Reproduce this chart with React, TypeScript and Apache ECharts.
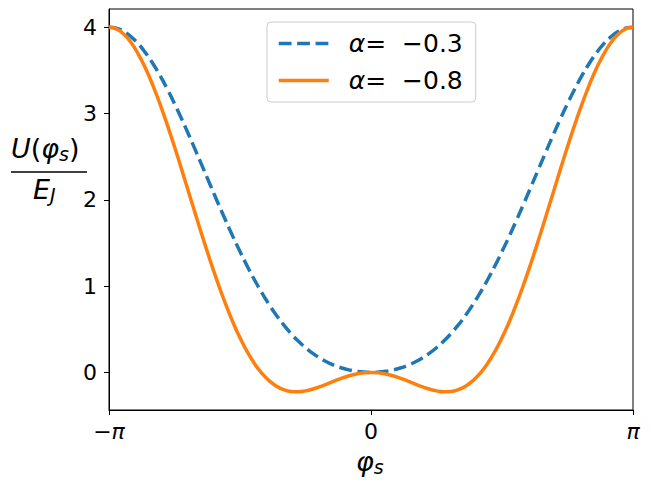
import React, { useEffect, useRef } from "react";
import * as echarts from "echarts";

const FONT = "DejaVu Sans";

// phase φ_s (radians) at which the curves were read (every 5°)
const PHI = [
  -3.14159, -3.0543, -2.9671, -2.8798, -2.7925, -2.7053, -2.618, -2.5307, -2.4435,
  -2.3562, -2.2689, -2.1817, -2.0944, -2.0071, -1.9199, -1.8326, -1.7453, -1.6581,
  -1.5708, -1.4835, -1.3963, -1.309, -1.2217, -1.1345, -1.0472, -0.9599, -0.8727,
  -0.7854, -0.6981, -0.6109, -0.5236, -0.4363, -0.3491, -0.2618, -0.1745, -0.0873,
  0,
  0.0873, 0.1745, 0.2618, 0.3491, 0.4363, 0.5236, 0.6109, 0.6981, 0.7854,
  0.8727, 0.9599, 1.0472, 1.1345, 1.2217, 1.309, 1.3963, 1.4835, 1.5708,
  1.6581, 1.7453, 1.8326, 1.9199, 2.0071, 2.0944, 2.1817, 2.2689, 2.3562,
  2.4435, 2.5307, 2.618, 2.7053, 2.7925, 2.8798, 2.9671, 3.0543, 3.14159,
];

// U(φ_s)/E_J for α = −0.3 (dashed blue)
const U_ALPHA_03 = [
  4.0, 3.9878, 3.9515, 3.8917, 3.8092, 3.7055, 3.5821, 3.4409, 3.2842,
  3.1142, 2.9335, 2.7445, 2.55, 2.3524, 2.1542, 1.9578, 1.7654, 1.5789,
  1.4, 1.2303, 1.0708, 0.9226, 0.7862, 0.6619, 0.55, 0.4502, 0.3623,
  0.2858, 0.22, 0.1643, 0.118, 0.0802, 0.0504, 0.028, 0.0123, 0.0031,
  0,
  0.0031, 0.0123, 0.028, 0.0504, 0.0802, 0.118, 0.1643, 0.22, 0.2858,
  0.3623, 0.4502, 0.55, 0.6619, 0.7862, 0.9226, 1.0708, 1.2303, 1.4,
  1.5789, 1.7654, 1.9578, 2.1542, 2.3524, 2.55, 2.7445, 2.9335, 3.1142,
  3.2842, 3.4409, 3.5821, 3.7055, 3.8092, 3.8917, 3.9515, 3.9878, 4.0,
];

// U(φ_s)/E_J for α = −0.8 (solid orange)
const U_ALPHA_08 = [
  4.0, 3.9802, 3.9214, 3.8247, 3.6922, 3.5269, 3.3321, 3.1119, 2.871,
  2.6142, 2.3467, 2.0735, 1.8, 1.531, 1.2712, 1.0248, 0.7956, 0.5865,
  0.4, 0.2378, 0.101, -0.0105, -0.0969, -0.1595, -0.2, -0.2208, -0.2245,
  -0.2142, -0.1932, -0.1647, -0.1321, -0.0984, -0.0665, -0.039, -0.0179, -0.0045,
  0,
  -0.0045, -0.0179, -0.039, -0.0665, -0.0984, -0.1321, -0.1647, -0.1932, -0.2142,
  -0.2245, -0.2208, -0.2, -0.1595, -0.0969, -0.0105, 0.101, 0.2378, 0.4,
  0.5865, 0.7956, 1.0248, 1.2712, 1.531, 1.8, 2.0735, 2.3467, 2.6142,
  2.871, 3.1119, 3.3321, 3.5269, 3.6922, 3.8247, 3.9214, 3.9802, 4.0,
];

const ALPHA_LABELS = ["−0.3", "−0.8"];
const SERIES_NAMES = ALPHA_LABELS.map((a) => "α = " + a);
const Y_TICKS = [0, 1, 2, 3, 4];

export default function App() {
  const ref = useRef<HTMLDivElement>(null);

  useEffect(() => {
    if (!ref.current) return;
    const chart = echarts.init(ref.current, undefined, { renderer: "svg" });

    const toPairs = (ys: number[]) => PHI.map((x, i) => [x, ys[i]]);

    const axisLabelBase = { color: "#000", fontSize: 22, fontFamily: FONT };

    const mainTok = (italic: boolean) => ({
      fontSize: 27,
      fontFamily: FONT,
      fontStyle: italic ? "italic" : "normal",
      lineHeight: 30,
      fill: "#000",
      color: "#000",
    });
    const subTok = {
      fontSize: 19,
      fontFamily: FONT,
      fontStyle: "italic",
      lineHeight: 14,
      verticalAlign: "bottom",
      fill: "#000",
      color: "#000",
    };
    const labelRich = { i: mainTok(true), n: mainTok(false), s: subTok };

    const legendTok = { color: "#000", fontSize: 25, fontFamily: FONT, lineHeight: 29 };

    const option: any = {
      animation: false,
      grid: {
        left: 109,
        right: 18,
        top: 9,
        bottom: 81,
        show: true,
        borderColor: "#000",
        borderWidth: 1,
        backgroundColor: "transparent",
        containLabel: false,
      },
      xAxis: {
        type: "value",
        min: -Math.PI,
        max: Math.PI,
        interval: Math.PI,
        axisLine: { show: true, onZero: false, lineStyle: { color: "#000", width: 1 } },
        axisTick: { show: true, length: 5, lineStyle: { color: "#000", width: 1 } },
        splitLine: { show: false },
        axisLabel: {
          ...axisLabelBase,
          margin: 10,
          formatter: (v: number) => {
            if (Math.abs(v) < 1e-6) return "0";
            return v < 0 ? "{n|−}{i|π}" : "{i|π}";
          },
          rich: {
            n: { ...axisLabelBase },
            i: { ...axisLabelBase, fontStyle: "italic" },
          },
        },
      },
      yAxis: {
        type: "value",
        min: -0.436,
        max: 4.211,
        axisLine: { show: true, onZero: false, lineStyle: { color: "#000", width: 1 } },
        axisTick: {
          show: true,
          length: 5,
          customValues: Y_TICKS,
          lineStyle: { color: "#000", width: 1 },
        },
        splitLine: { show: false },
        axisLabel: {
          ...axisLabelBase,
          margin: 12,
          customValues: Y_TICKS,
          formatter: (v: number) => String(Math.round(v)),
        },
      },
      legend: {
        orient: "vertical",
        left: 267,
        top: 22,
        padding: [7, 13, 7, 10],
        itemGap: 8,
        itemWidth: 50,
        itemHeight: 14,
        backgroundColor: "rgba(255,255,255,0.8)",
        borderColor: "#cccccc",
        borderWidth: 1,
        borderRadius: 4,
        itemStyle: { opacity: 0 },
        lineStyle: { width: 3.5 },
        data: SERIES_NAMES,
        formatter: (name: string) => {
          const idx = SERIES_NAMES.indexOf(name);
          return "{i|α}{n|=  " + ALPHA_LABELS[idx] + "}";
        },
        textStyle: {
          ...legendTok,
          rich: {
            i: { ...legendTok, fontStyle: "italic", padding: [0, 0, 0, 15] },
            n: { ...legendTok },
          },
        },
      },
      series: [
        {
          name: SERIES_NAMES[0],
          type: "line",
          data: toPairs(U_ALPHA_03),
          smooth: true,
          symbol: "none",
          showSymbol: false,
          lineStyle: { color: "#1f77b4", width: 3.5, type: [12.8, 5.6], cap: "butt" },
          itemStyle: { color: "#1f77b4" },
          z: 2,
        },
        {
          name: SERIES_NAMES[1],
          type: "line",
          data: toPairs(U_ALPHA_08),
          smooth: true,
          symbol: "none",
          showSymbol: false,
          lineStyle: { color: "#ff7f0e", width: 3.5 },
          itemStyle: { color: "#ff7f0e" },
          z: 3,
        },
      ],
      graphic: [
        // y-axis label: U(φ_s) / E_J
        {
          type: "text",
          x: 11,
          y: 148,
          style: {
            text: "{i|U}{n|(}{i|φ}{s|s}{n|)}",
            rich: labelRich,
            fill: "#000",
            align: "left",
            verticalAlign: "middle",
          },
        },
        { type: "line", shape: { x1: 11, y1: 172, x2: 87, y2: 172 }, style: { stroke: "#000", lineWidth: 1.5 } },
        {
          type: "text",
          x: 33,
          y: 189,
          style: {
            text: "{i|E}{s|J}",
            rich: labelRich,
            fill: "#000",
            align: "left",
            verticalAlign: "middle",
          },
        },
        // x-axis label: φ_s
        {
          type: "text",
          x: 356,
          y: 461,
          style: {
            text: "{i|φ}{s|s}",
            rich: labelRich,
            fill: "#000",
            align: "left",
            verticalAlign: "middle",
          },
        },
      ],
    };

    chart.setOption(option);
    return () => chart.dispose();
  }, []);

  return <div ref={ref} style={{ width: 651, height: 491, margin: -8 }} />;
}
